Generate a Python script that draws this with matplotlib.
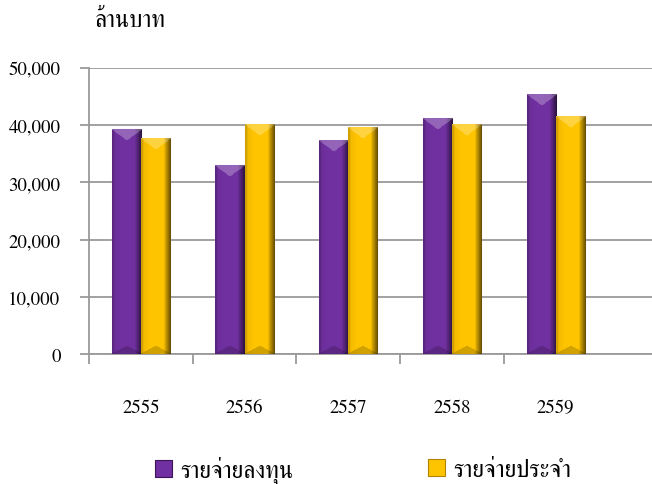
import numpy as np
import matplotlib
matplotlib.use('Agg')
import matplotlib.pyplot as plt
from matplotlib.patches import Patch
from matplotlib.ticker import FuncFormatter

years = ['2555', '2556', '2557', '2558', '2559']
investment = [39300, 33000, 37300, 41250, 45300]
regular = [37600, 40100, 39600, 40100, 41500]
series_names = ['รายจ่ายลงทุน', 'รายจ่ายประจำ']
unit_label = 'ล้านบาท'
y_ticks = [0, 10000, 20000, 30000, 40000, 50000]

purple = (0.44, 0.19, 0.63)
gold = (1.0, 0.77, 0.0)

plt.rcParams['font.family'] = ['FreeSerif', 'DejaVu Serif']
FS = 13.5      # numbers
FS_TH = 17     # thai labels


def bevel_image(rgb, value, ymax=50000, px_height=286, ncols=40):
    # rough "bevelled column" look: dark right edge, light wedge on top
    nrows = max(int(round(value / ymax * px_height)), 20)
    u = (np.arange(ncols) + 0.5) / ncols
    f = np.ones(ncols)
    f[u < 0.07] = 0.82
    mid = (u >= 0.07) & (u < 0.3)
    f[mid] = 0.95 + 0.05 * (u[mid] - 0.07) / 0.23
    right = u > 0.78
    f[right] = 0.92 - (u[right] - 0.78) / 0.22 * 0.55
    img = np.tile(np.array(rgb)[None, None, :] * f[None, :, None], (nrows, 1, 1))
    top = 11
    for r in range(min(top, nrows)):
        inside = np.abs(u - 0.5) < 0.5 * (1 - r / top)
        img[r, inside] = img[r, inside] + (1 - img[r, inside]) * 0.25
    bottom = 8
    for k in range(min(bottom, nrows)):
        r = nrows - 1 - k
        inside = np.abs(u - 0.5) < 0.5 * (1 - k / bottom)
        img[r, inside] = img[r, inside] * 0.82
    return np.clip(img, 0, 1)


fig = plt.figure(figsize=(6.52, 4.85), dpi=100)
ax = fig.add_axes([89 / 652, 130 / 485, 563 / 652, 286 / 485])

x = np.arange(len(years))
w = 0.28
b1 = ax.bar(x - w / 2, investment, w, color=purple, edgecolor='#b8b8b8', linewidth=0.8, zorder=2)
b2 = ax.bar(x + w / 2, regular, w, color=gold, edgecolor='#b8b8b8', linewidth=0.8, zorder=2)

for bars, rgb in ((b1, purple), (b2, gold)):
    for rect in bars:
        x0 = rect.get_x()
        h = rect.get_height()
        ax.imshow(bevel_image(rgb, h), extent=[x0, x0 + rect.get_width(), 0, h],
                  aspect='auto', interpolation='bilinear', zorder=3)

ax.set_xlim(-0.5, 4.93)
ax.set_ylim(0, 50000)
ax.set_aspect('auto')

ax.set_yticks(y_ticks)
ax.yaxis.set_major_formatter(FuncFormatter(lambda v, p: f'{int(v):,}'))
ax.grid(axis='y', color='#9a9a9a', linewidth=1.3, zorder=0)
ax.set_axisbelow(True)
ax.tick_params(axis='y', length=6.5, width=1.3, color='#9a9a9a', pad=14, labelsize=FS)

# group boundaries get the tick marks, year labels sit in the middle
ax.set_xticks(np.arange(-0.5, 4, 1.0))
ax.set_xticklabels([])
ax.set_xticks(x, minor=True)
ax.set_xticklabels(years, minor=True)
ax.tick_params(axis='x', which='major', length=7, width=1.3, color='#9a9a9a')
ax.tick_params(axis='x', which='minor', length=0, pad=32, labelsize=FS)

for s in ('top', 'right'):
    ax.spines[s].set_visible(False)
for s in ('left', 'bottom'):
    ax.spines[s].set_color('#9a9a9a')
    ax.spines[s].set_linewidth(1.3)

fig.text(95 / 652, 1 - 21 / 485, unit_label, fontsize=FS_TH, va='center', ha='left')

for name, col, edge, lx in ((series_names[0], purple, '#3a1456', 155),
                            (series_names[1], gold, '#b08400', 428)):
    fig.legend(handles=[Patch(facecolor=col, edgecolor=edge, linewidth=0.8)], labels=[name],
               loc='center left', bbox_to_anchor=(lx / 652, 14 / 485), frameon=False,
               borderpad=0, borderaxespad=0, handlelength=0.72, handleheight=0.72,
               handletextpad=0.35, fontsize=FS_TH)

fig.savefig('out.png', dpi=100)
